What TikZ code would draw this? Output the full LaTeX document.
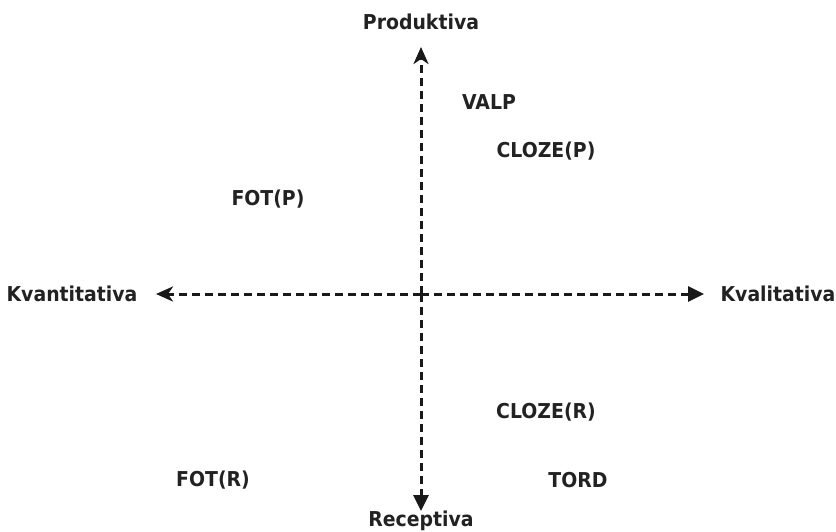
\documentclass[tikz,border=0pt]{standalone}
\usepackage{fontspec}
\setmainfont{DejaVu Sans}[FakeStretch=0.92]
\usetikzlibrary{arrows.meta}
\definecolor{txt}{HTML}{222222}
\tikzset{
  lbl/.style={font=\fontsize{20.5}{24}\selectfont\bfseries, text=txt, inner sep=0pt},
  axis/.style={line width=3pt, dash pattern=on 8pt off 5pt, draw=black!90},
  stl/.style={-{Stealth[length=17pt,width=15pt,inset=5pt]}},
  tri/.style={-{Triangle[length=16pt,width=15pt]}}
}
\begin{document}
\begin{tikzpicture}[x=1pt,y=-1pt]
\useasboundingbox (0,0) rectangle (836,531);
\coordinate (c) at (421,294);
\coordinate (top) at (421,47);
\coordinate (bot) at (421,511);
\coordinate (lft) at (156,294);
\coordinate (rgt) at (704,294);
\draw[axis, stl] (c) -- (top);
\draw[axis, tri] (c) -- (bot);
\draw[axis, stl] (c) -- (lft);
\draw[axis, tri] (c) -- (rgt);
\node[lbl] (prod) at (421,22) {Produktiva};
\node[lbl] (rec) at (421,521) {Receptiva};
\node[lbl] (kvan) at (72,294) {Kvantitativa};
\node[lbl] (kval) at (778,294) {Kvalitativa};
\node[lbl] (valp) at (489,102) {VALP};
\node[lbl] (clozep) at (546,151) {CLOZE(P)};
\node[lbl] (fotp) at (268,199) {FOT(P)};
\node[lbl] (clozer) at (546,412) {CLOZE(R)};
\node[lbl] (fotr) at (213,480) {FOT(R)};
\node[lbl] (tord) at (578,480) {TORD};
\end{tikzpicture}
\end{document}
